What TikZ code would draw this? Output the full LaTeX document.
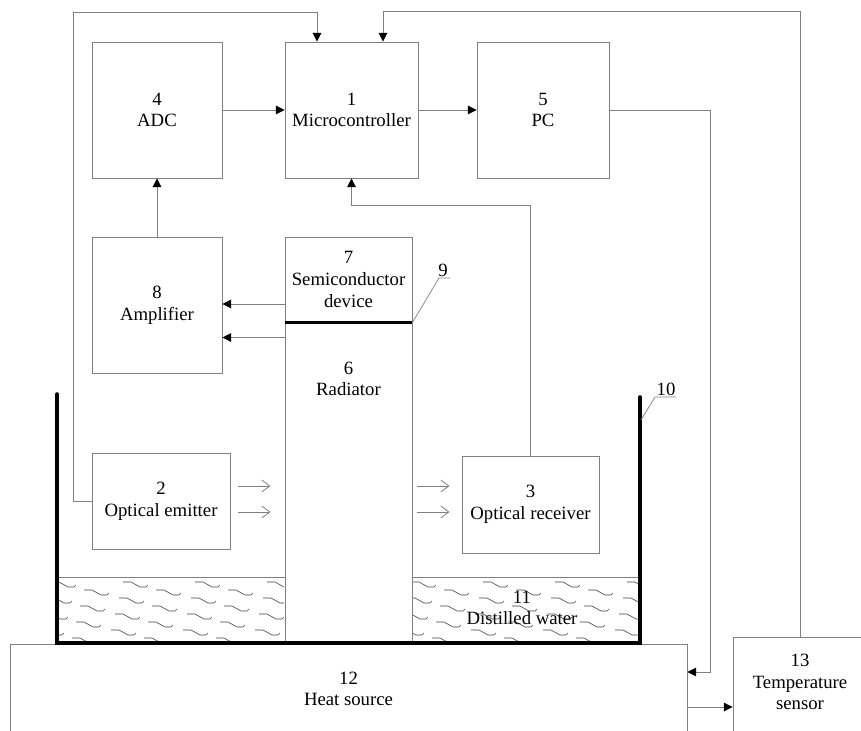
\documentclass[tikz,border=0pt]{standalone}
\usepackage{fontspec}
\setmainfont{Liberation Serif}
\usepackage{tikz}
\usetikzlibrary{arrows.meta}
\definecolor{linegray}{gray}{0.5}

\begin{document}
\begin{tikzpicture}[
            x=0.03cm, y=-0.03cm,
            font=\fontsize{16}{18.5}\selectfont,
            block/.style={draw=linegray, line width=0.8pt, rectangle, inner sep=0pt, align=center},
            txt/.style={inner sep=0pt, align=center},
            signal/.style={-{Triangle[length=2.6mm, width=2.6mm, color=black]}, draw=linegray, line width=0.8pt},
            light/.style={-{Straight Barb[length=2.4mm, width=3.6mm]}, linegray, line width=0.7pt},
            vessel/.style={line width=3pt, black, line cap=round},
            leader/.style={linegray, line width=0.6pt},
            wave/.style={line width=0.5pt, black!75},
        ]
            \useasboundingbox (0,0) rectangle (861,731);

            % --- Bloques ---
            \node[block, minimum width=3.9cm, minimum height=4.08cm] (adc) at (157,110) {4\\ADC};
            \node[block, minimum width=3.99cm, minimum height=4.08cm] (mcu) at (351.5,110) {1\\Microcontroller};
            \node[block, minimum width=3.96cm, minimum height=4.08cm] (pc) at (543,110) {5\\PC};
            \node[block, minimum width=3.9cm, minimum height=4.08cm] (amp) at (157,305) {8\\Amplifier};
            \node[block, minimum width=3.81cm, minimum height=2.55cm] (semi) at (348.5,279.5) {7\\Semiconductor\\device};
            \node[block, minimum width=3.81cm, minimum height=9.66cm] (rad) at (348.5,483) {};
            \node[txt] (radlbl) at (348.5,379) {6\\Radiator};
            \node[block, minimum width=4.14cm, minimum height=2.88cm] (emit) at (161,501) {2\\Optical emitter};
            \node[block, minimum width=4.11cm, minimum height=2.91cm] (recv) at (530.5,504.5) {3\\Optical receiver};
            \node[block, minimum width=20.31cm, minimum height=2.7cm] (heat) at (348.5,689) {12\\Heat source};
            \node[block, minimum width=4.02cm, minimum height=3.6cm] (temp) at (800,697) {};
            \node[txt] (templbl) at (800,682) {13\\Temperature\\sensor};

            % --- Agua destilada ---
            \begin{scope}
                \clip (59,578) rectangle (284,641) (413,578) rectangle (638,641);
                \foreach \r in {0,...,7} {
                    \foreach \c in {0,...,10} {
                        \draw[wave] ({51+72*\c-2*\r-mod(\r,2)*37},{582+8*\r}) -- ++(8,0) -- ++(9,5) -- ++(6,0) -- ++(2,-2);
                    }
                }
            \end{scope}
            \draw[leader] (57,577) -- (rad.west |- 0,577);
            \draw[leader] (rad.east |- 0,577) -- (640,577);
            \node[txt] (water) at (522,608) {11\\Distilled water};

            % --- Recipiente ---
            \draw[vessel] (57,394) -- (57,643) -- (640,643) -- (640,397);
            \draw[line width=2pt] (semi.south west) -- (semi.south east);

            % --- Conexiones ---
            \draw[signal] (adc.east) -- (mcu.west);
            \draw[signal] (mcu.east) -- (pc.west);
            \draw[signal] (amp.north) -- (adc.south);
            \draw[signal] ([yshift=-0.735cm]semi.west) -- ([yshift=-0.735cm]semi.west -| amp.east);
            \draw[signal] ([yshift=-0.48cm]rad.north west) -- ([yshift=-0.48cm]rad.north west -| amp.east);
            \draw[signal] (emit.west) -| (73,12) -| ([xshift=-1.035cm]mcu.north);
            \draw[signal] (temp.north) -- ++(0,-625) -| ([xshift=0.945cm]mcu.north);
            \draw[signal] (recv.north) |- ([yshift=-0.81cm]mcu.south) -- (mcu.south);
            \draw[signal] (pc.east) -| (710,672) -- (heat.east |- 0,672);
            \draw[signal] (heat.east |- 0,707) -- (temp.west |- 0,707);

            % --- Luz ---
            \foreach \y in {486, 512} {
                \draw[light] ([xshift=0.24cm]emit.east |- 0,\y) -- ++(32,0);
                \draw[light] ([xshift=0.15cm]rad.east |- 0,\y) -- ++(32,0);
            }

            % --- Etiquetas 9 y 10 ---
            \coordinate (nine) at (450,278);
            \coordinate (ten) at (676,397);
            \draw[leader] (semi.south east) -- (439,278) -- (nine);
            \node[txt] (lbl9) at (443,270) {9};
            \draw[leader] (641,420) -- (655,397) -- (ten);
            \node[txt] (lbl10) at (666,389) {10};
        \end{tikzpicture}
\end{document}
